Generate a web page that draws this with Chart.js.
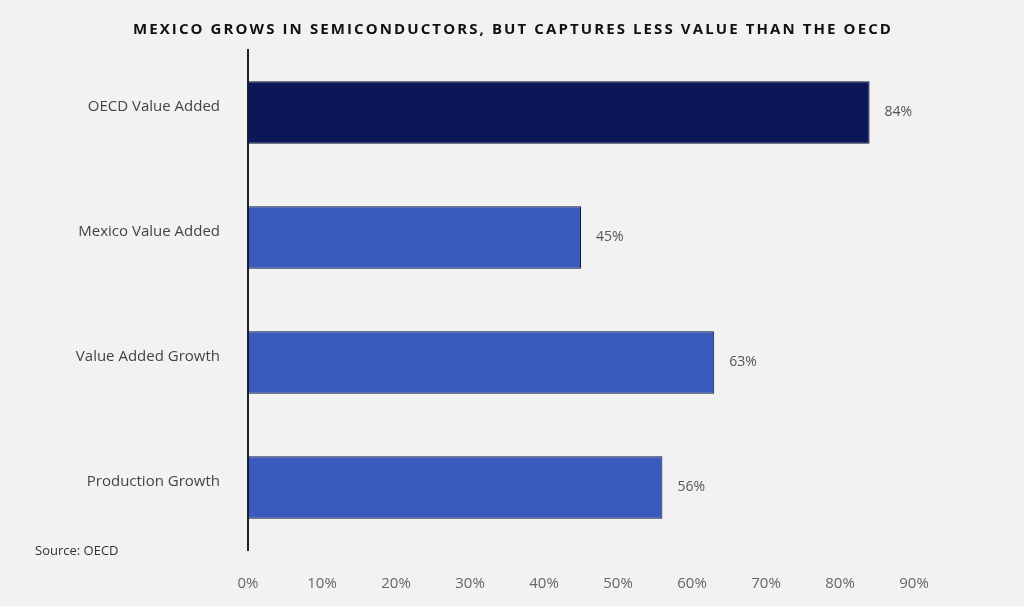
<!DOCTYPE html>
<html>
<head>
<meta charset="utf-8">
<style>
  html, body { margin: 0; padding: 0; background: #f2f2f2; }
  #wrap { width: 1024px; height: 606px; position: relative; }
</style>
</head>
<body>
<div id="wrap"><canvas id="chart"></canvas></div>

<script src="https://cdn.jsdelivr.net/npm/chart.js"></script>
<script>
  // chart data
  const categories = ["OECD Value Added", "Mexico Value Added", "Value Added Growth", "Production Growth"];
  const values = [84, 45, 63, 56];
  const barColors = ["#0c175a", "#3a5bbd", "#3a5bbd", "#3a5bbd"];
  const tickValues = [0, 10, 20, 30, 40, 50, 60, 70, 80, 90];
  const titleText = "MEXICO GROWS IN SEMICONDUCTORS, BUT CAPTURES LESS VALUE THAN THE OECD";
  const sourceText = "Source: OECD";

  const font = "'Open Sans', 'Noto Sans', sans-serif";

  // title, source note and value labels
  const extras = {
    id: "extras",
    afterDatasetsDraw(chart) {
      const ctx = chart.ctx;
      ctx.save();

      ctx.fillStyle = "#555";
      ctx.font = "14px " + font;
      ctx.textAlign = "left";
      ctx.textBaseline = "middle";
      chart.getDatasetMeta(0).data.forEach((bar, i) => {
        ctx.fillText(values[i] + "%", bar.x + 15, bar.y);
      });

      ctx.fillStyle = "#333";
      ctx.font = "13px " + font;
      ctx.fillText(sourceText, 35, 551);

      ctx.fillStyle = "#111";
      ctx.font = "bold 15px " + font;
      ctx.letterSpacing = "2.1px";
      ctx.textAlign = "center";
      ctx.fillText(titleText, 513, 30);
      ctx.restore();
    }
  };

  new Chart(document.getElementById("chart"), {
    type: "bar",
    data: {
      labels: categories,
      datasets: [{
        data: values,
        backgroundColor: barColors,
        borderColor: "#141c33",
        borderWidth: 1,
        borderSkipped: false,
        categoryPercentage: 0.5,
        barPercentage: 1
      }]
    },
    options: {
      indexAxis: "y",
      responsive: true,
      maintainAspectRatio: false,
      animation: false,
      layout: { padding: { top: 50, right: 110, bottom: 0, left: 0 } },
      plugins: {
        legend: { display: false },
        tooltip: { enabled: false }
      },
      scales: {
        x: {
          min: 0,
          max: 90,
          afterBuildTicks(scale) {
            scale.ticks = tickValues.map(v => ({ value: v }));
          },
          afterFit(scale) { scale.height = 56; },
          grid: { display: false, drawTicks: false },
          border: { display: false },
          ticks: {
            padding: 25,
            color: "#666",
            font: { family: font, size: 15 },
            callback: v => v + "%"
          }
        },
        y: {
          afterFit(scale) { scale.width = 248; },
          grid: { display: false, drawTicks: false },
          border: { display: true, color: "#222", width: 2 },
          ticks: {
            padding: 28,
            labelOffset: -6,
            color: "#444",
            font: { family: font, size: 15 }
          }
        }
      }
    },
    plugins: [extras]
  });
</script>
</body>
</html>
